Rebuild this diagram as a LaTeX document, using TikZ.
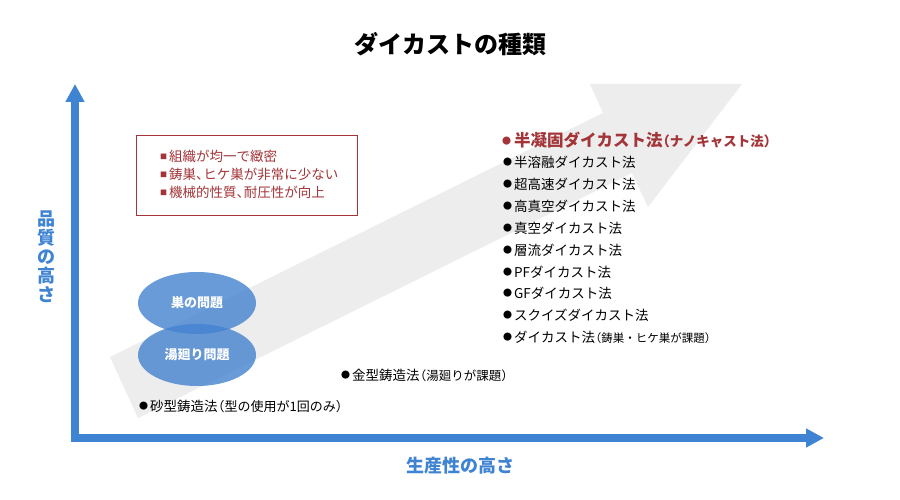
\documentclass[tikz,border=0pt]{standalone}
\usepackage{fontspec}
\setmainfont{Noto Sans CJK JP}
\usetikzlibrary{arrows.meta,shapes.geometric}
\definecolor{axisblue}{HTML}{3F83D3}
\definecolor{darkred}{HTML}{A33539}
\definecolor{garrow}{HTML}{EDEDED}
\definecolor{ellblue}{HTML}{4482D0}
\newcommand\mybul[1]{\raisebox{0.12em}{\fontsize{#1}{#1}\selectfont ●}\hspace{2pt}}
\newcommand\mysq{\raisebox{0.1em}{\fontsize{7}{7}\selectfont ■}\hspace{2pt}}
\newcommand\tc{、\hspace{-0.45em}}
\newcommand\po{\hspace{-0.45em}（}
\newcommand\pc{）}
\begin{document}
\begin{tikzpicture}[x=1pt,y=-1pt,
  every node/.style={inner sep=0pt, outer sep=0pt},
  axis/.style={draw=axisblue, line width=8pt, line join=miter,
    -{Triangle[width=18pt,length=18pt]}},
  axlabel/.style={text=axisblue, font=\bfseries\fontsize{18}{19}\selectfont},
  item/.style={anchor=west, text=black, font=\fontsize{13.5}{16}\selectfont},
  bubble/.style={ellipse, fill=ellblue, fill opacity=0.8, text opacity=1,
    minimum width=118pt, minimum height=62pt, text=white,
    font=\bfseries\fontsize{13}{15}\selectfont},
  notebox/.style={draw=darkred, line width=0.8pt, minimum width=221pt, minimum height=80pt},
  noteline/.style={anchor=west, text=darkred, font=\fontsize{13.5}{16}\selectfont}
]
\useasboundingbox (0,0) rectangle (900,500);
\fill[white] (0,0) rectangle (900,500);

% big gray arrow
\fill[garrow] (110,357) -- (603,113) -- (590,84) -- (742,84) -- (648,207)
  -- (632,173) -- (138,418) -- cycle;

% title
\node[font=\bfseries\fontsize{24}{26}\selectfont] (title) at (450,44) {ダイカストの種類};

% axes
\coordinate (O) at (75,438);
\coordinate (Ytip) at (75,84);
\coordinate (Xtip) at (824,438);
\draw[axis] ([yshift=4pt]O) -- (Ytip);
\draw[axis] ([xshift=-4pt]O) -- (Xtip);

\node[axlabel, align=center] (ylab) at (46,257) {品\\質\\の\\高\\さ};
\node[axlabel, anchor=west] (xlab) at (406,466) {生産性の高さ};

% note box
\node[notebox] (box) at (247,175) {};
\node[noteline] (n1) at (160,156) {\mysq 組織が均一で緻密};
\node[noteline] (n2) at (160,174) {\mysq 鋳巣\tc ヒケ巣が非常に少ない};
\node[noteline] (n3) at (160,192) {\mysq 機械的性質\tc 耐圧性が向上};

% bubbles
\node[bubble] (b1) at (197,303) {巣の問題};
\node[bubble] (b2) at (197,355) {湯廻り問題};

% right list
\node[anchor=west, text=darkred, font=\bfseries\fontsize{16.5}{19}\selectfont] (r0) at (502,140)
  {\mybul{9}\hspace{1pt}半凝固ダイカスト法{\fontsize{13.5}{16}\selectfont\po ナノキャスト法\pc}};
\node[item] (r1) at (503,162) {\mybul{9}半溶融ダイカスト法};
\node[item] (r2) at (503,184) {\mybul{9}超高速ダイカスト法};
\node[item] (r3) at (503,206) {\mybul{9}高真空ダイカスト法};
\node[item] (r4) at (503,228) {\mybul{9}真空ダイカスト法};
\node[item] (r5) at (503,250) {\mybul{9}層流ダイカスト法};
\node[item] (r6) at (503,272) {\mybul{9}PFダイカスト法};
\node[item] (r7) at (503,293) {\mybul{9}GFダイカスト法};
\node[item] (r8) at (503,315) {\mybul{9}スクイズダイカスト法};
\node[item] (r9) at (503,337) {\mybul{9}ダイカスト法{\fontsize{11.5}{13}\selectfont\po 鋳巣・ヒケ巣が課題\pc}};

% lower items
\node[item] (m1) at (341,375) {\mybul{9}金型鋳造法{\fontsize{12.5}{14}\selectfont\po 湯廻りが課題\pc}};
\node[item] (m2) at (139,406) {\mybul{9}砂型鋳造法{\fontsize{13}{14}\selectfont\po 型の使用が1回のみ\pc}};
\end{tikzpicture}
\end{document}
